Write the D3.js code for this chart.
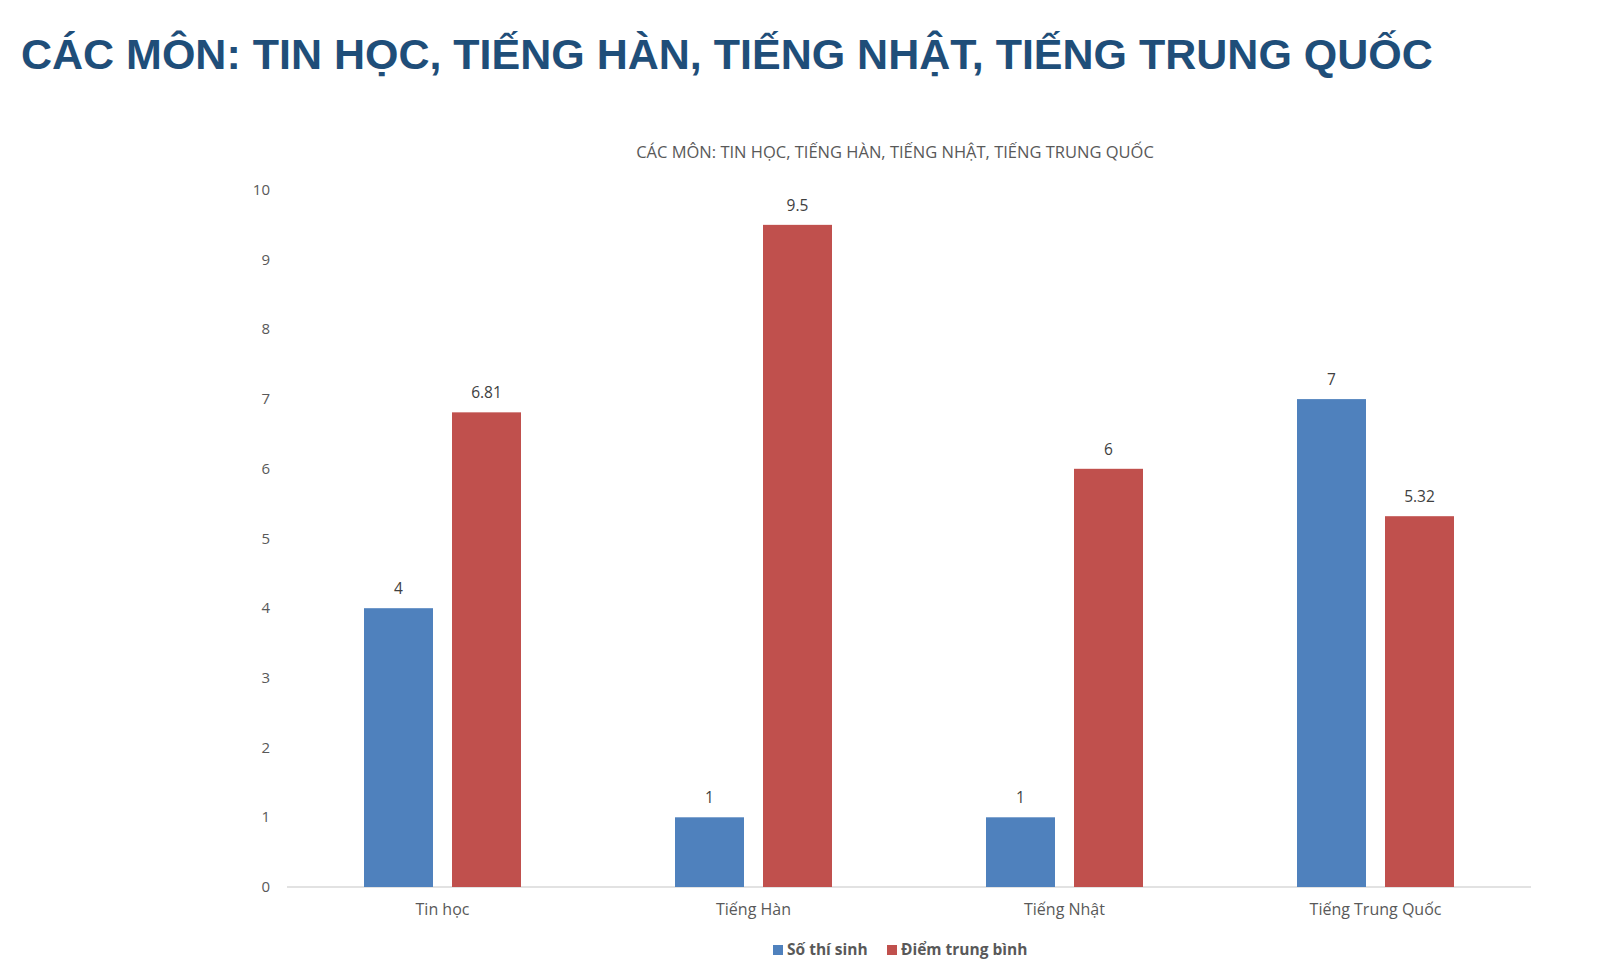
<!DOCTYPE html>
<html><head><meta charset="utf-8">
<script src="https://cdn.jsdelivr.net/npm/d3@7"></script>
<style>body{margin:0;background:#fff}</style>
</head><body>
<svg id="chart" width="1608" height="976"></svg>
<script>
const categories = ["Tin học", "Tiếng Hàn", "Tiếng Nhật", "Tiếng Trung Quốc"];
const soThiSinh = [4, 1, 1, 7];
const diemTrungBinh = [6.81, 9.5, 6, 5.32];
const seriesNames = ["Số thí sinh", "Điểm trung bình"];
const seriesColors = ["#4F81BD", "#C0504D"];
const yTicks = [0,1,2,3,4,5,6,7,8,9,10];

const svg = d3.select("#chart");
const font = "'Open Sans', 'Noto Sans', sans-serif";

svg.append("text").attr("x", 21).attr("y", 69)
  .attr("font-family", "'Liberation Sans', Arial, sans-serif").attr("font-weight", "bold")
  .attr("font-size", 43).attr("fill", "#1F4E79")
  .text("CÁC MÔN: TIN HỌC, TIẾNG HÀN, TIẾNG NHẬT, TIẾNG TRUNG QUỐC");

svg.append("text").attr("x", 895).attr("y", 158).attr("text-anchor", "middle")
  .attr("font-family", font).attr("font-size", 16.5).attr("fill", "#595959")
  .text("CÁC MÔN: TIN HỌC, TIẾNG HÀN, TIẾNG NHẬT, TIẾNG TRUNG QUỐC");

const x = d3.scaleBand().domain(categories).range([287, 1531]);
const y = d3.scaleLinear().domain([0, 10]).range([887, 190]);
const barW = 69, gap = 19;

// y tick labels
svg.selectAll(".yt").data(yTicks).join("text")
  .attr("x", 270).attr("y", d => y(d) + 5).attr("text-anchor", "end")
  .attr("font-family", font).attr("font-size", 15).attr("fill", "#595959")
  .text(d => d);

svg.append("line").attr("x1", 287).attr("x2", 1531).attr("y1", y(0)).attr("y2", y(0))
  .attr("stroke", "#d9d9d9").attr("stroke-width", 1.5);

const series = [soThiSinh, diemTrungBinh];
series.forEach((vals, si) => {
  const off = si === 0 ? -(gap / 2 + barW) : gap / 2;
  const g = svg.append("g");
  g.selectAll("rect").data(vals).join("rect")
    .attr("x", (d, i) => x(categories[i]) + x.bandwidth() / 2 + off)
    .attr("y", d => y(d)).attr("width", barW).attr("height", d => y(0) - y(d))
    .attr("fill", seriesColors[si]);
  g.selectAll("text").data(vals).join("text")
    .attr("x", (d, i) => x(categories[i]) + x.bandwidth() / 2 + off + barW / 2)
    .attr("y", d => y(d) - 14).attr("text-anchor", "middle")
    .attr("font-family", font).attr("font-size", 15.5).attr("fill", "#404040")
    .text(d => d);
});

svg.selectAll(".xl").data(categories).join("text")
  .attr("x", d => x(d) + x.bandwidth() / 2).attr("y", 915).attr("text-anchor", "middle")
  .attr("font-family", font).attr("font-size", 16).attr("fill", "#595959")
  .text(d => d);

// legend
const legX = [773, 887];
seriesNames.forEach((n, i) => {
  svg.append("rect").attr("x", legX[i]).attr("y", 945).attr("width", 10).attr("height", 10)
    .attr("fill", seriesColors[i]);
  svg.append("text").attr("x", legX[i] + 14).attr("y", 955)
    .attr("font-family", font).attr("font-size", 15.5).attr("font-weight", "bold").attr("fill", "#595959")
    .text(n);
});
</script>
</body></html>
